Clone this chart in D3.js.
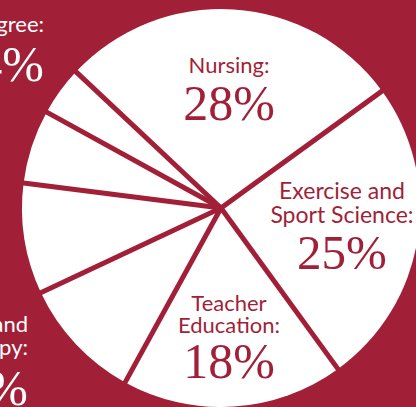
<!DOCTYPE html>
<html>
<head>
<meta charset="utf-8">
<script src="https://cdn.jsdelivr.net/npm/d3@7"></script>
<style>
  html, body { margin: 0; padding: 0; background: #a21f38; }
  svg { display: block; }
</style>
</head>
<body>
<svg id="chart"></svg>
<script>
const categories = ['Nursing', 'Exercise and Sport Science', 'Teacher Education',
  'Recreation and Leisure Therapy', 'Health Promotion', 'Public Health', 'Dual Degree'];
const values = [28, 25, 18, 10, 9, 6, 4];
// label lines for slices, inside ones first
const labelLines = [
  ['Nursing:'],
  ['Exercise and', 'Sport Science:'],
  ['Teacher', 'Education:'],
  ['Recreation and', 'Leisure Therapy:'],
  null,
  null,
  ['Dual Degree:']
];

const width = 416, height = 407;
const red = '#a21f38';
const cx = 221, cy = 208, radius = 199;
const startDeg = -46.8;

const svg = d3.select('#chart')
  .attr('width', width)
  .attr('height', height);

svg.append('rect')
  .attr('width', width)
  .attr('height', height)
  .attr('fill', red);

const pie = d3.pie()
  .sort(null)
  .startAngle(startDeg * Math.PI / 180)
  .endAngle((startDeg + 360) * Math.PI / 180);

const arcs = pie(values);
const arc = d3.arc().innerRadius(0).outerRadius(radius);

const g = svg.append('g').attr('transform', `translate(${cx},${cy})`);

g.selectAll('path')
  .data(arcs)
  .join('path')
  .attr('d', arc)
  .attr('fill', '#fff');

// separator spokes
g.selectAll('line')
  .data(arcs)
  .join('line')
  .attr('x1', 0).attr('y1', 0)
  .attr('x2', d => Math.sin(d.startAngle) * (radius + 2))
  .attr('y2', d => -Math.cos(d.startAngle) * (radius + 2))
  .attr('stroke', red)
  .attr('stroke-width', 5);

// where each visible label goes (the middle two sit off the left edge in the original)
const place = [
  { x: 229, y: 73, lh: 23, py: 47, anchor: 'middle', color: red, fs: 22, ps: 50 },
  { x: 342, y: 199, lh: 24, py: 46, anchor: 'middle', color: red, fs: 23, ps: 49 },
  { x: 229, y: 311, lh: 22, py: 45, anchor: 'middle', color: red, fs: 22, ps: 50 },
  { x: 28, y: 332, lh: 23, py: 50, anchor: 'end', color: '#fff', fs: 22, ps: 50 },
  null,
  null,
  { x: 44, y: 32, lh: 23, py: 49, anchor: 'end', color: '#fff', fs: 22, ps: 50 }
];

const labels = svg.append('g')
  .selectAll('g')
  .data(arcs.map((d, i) => ({ d, i, p: place[i], lines: labelLines[i] })).filter(o => o.p))
  .join('g');

labels.each(function(o) {
  const grp = d3.select(this);
  const t = grp.append('text')
    .attr('text-anchor', o.p.anchor)
    .attr('fill', o.p.color)
    .attr('font-family', 'Lato, "Open Sans", sans-serif')
    .attr('font-size', o.p.fs);
  o.lines.forEach((line, k) => {
    t.append('tspan')
      .attr('x', o.p.x)
      .attr('y', o.p.y + k * o.p.lh)
      .text(line);
  });
  grp.append('text')
    .attr('x', o.p.x)
    .attr('y', o.p.y + (o.lines.length - 1) * o.p.lh + o.p.py)
    .attr('text-anchor', o.p.anchor)
    .attr('fill', o.p.color)
    .attr('font-family', '"Liberation Serif", serif')
    .attr('font-size', o.p.ps)
    .text(values[o.i] + '%');
});
</script>
</body>
</html>
